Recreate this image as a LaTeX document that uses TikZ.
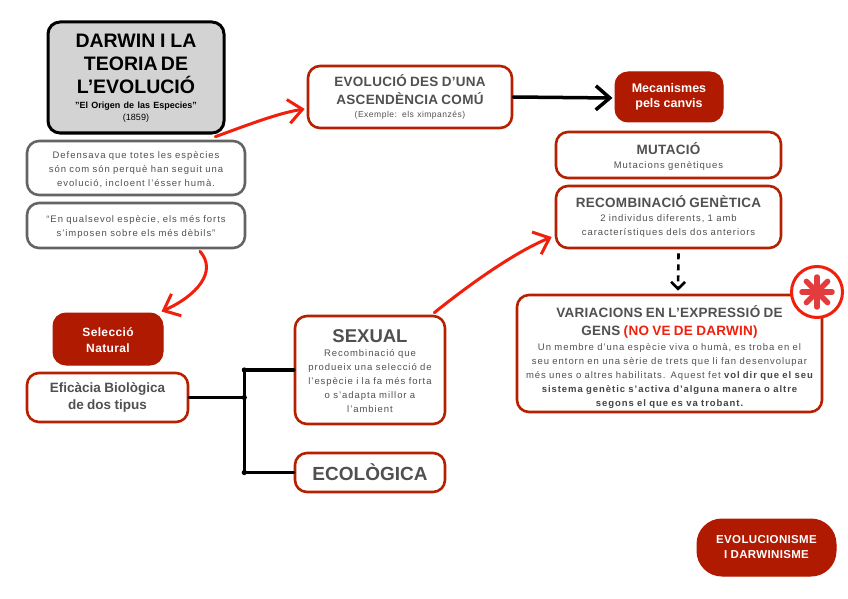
\documentclass[tikz,border=0pt]{standalone}
\usepackage{fontspec}
\setmainfont{Liberation Sans}
\usetikzlibrary{arrows.meta,calc}
\definecolor{dred}{HTML}{B01A00}
\definecolor{bred}{HTML}{B42000}
\definecolor{ared}{HTML}{F0200C}
\definecolor{tgray}{HTML}{505050}
\definecolor{bgray}{HTML}{646464}
\definecolor{lgray}{HTML}{D3D3D3}
\definecolor{astred}{HTML}{E23C3C}
\newcommand{\bodytext}{\fontsize{9.5}{14}\selectfont\mdseries\addfontfeature{LetterSpace=10}}
\newcommand{\headtext}{\fontsize{13.5}{17.5}\selectfont\bfseries\addfontfeature{LetterSpace=2}}
\tikzset{
  box/.style={draw=bred, line width=2.6pt, rounded corners=12pt, fill=white, align=center, inner sep=0pt, text=tgray},
  gbox/.style={box, draw=bgray},
  fbox/.style={draw=dred, fill=dred, line width=1pt, rounded corners=13pt, align=center, inner sep=0pt, text=white},
  redarrow/.style={draw=ared, line width=3pt, line cap=round, line join=round, -{Straight Barb[length=14pt,width=24pt]}},
  blackarrow/.style={draw=black, line width=3.5pt, line cap=round, line join=round, -{Straight Barb[length=14pt,width=24pt]}},
  treeline/.style={draw=black, line width=3.5pt, line cap=round}
}
\begin{document}
\begin{tikzpicture}[x=1pt,y=-1pt]
\fill[white] (0,0) rectangle (848,599);
\useasboundingbox (0,0) rectangle (848,599);

% Darwin title box
\node[box, draw=black, fill=lgray, line width=3pt, text=black, minimum width=176pt, minimum height=111pt, text width=170pt] (dar) at (136,77.5)
 {\fontsize{19.5}{23}\selectfont\bfseries\rule{0pt}{15pt}DARWIN\hspace{1.5pt} I\hspace{1.5pt} LA\\TEORIA DE\\L’EVOLUCIÓ\par
  \vspace{2pt}\fontsize{9}{12.5}\selectfont "El Origen de las Especies"\\\mdseries (1859)\par};

\node[gbox, minimum width=218pt, minimum height=54pt, text width=214pt] (g1) at (136,168)
 {\bodytext\rule{0pt}{11pt}Defensava que totes les espècies\\són com són perquè han seguit una\\evolució, incloent l’ésser humà.\par};

\node[gbox, minimum width=218pt, minimum height=45pt, text width=214pt] (g2) at (136,225.5)
 {\bodytext\rule{0pt}{10pt}“En qualsevol espècie, els més forts\\s’imposen sobre els més dèbils”\par};

% Evolucio
\node[box, minimum width=204pt, minimum height=62pt, text width=200pt] (evo) at (410,97)
 {\headtext EVOLUCIÓ DES D’UNA\\ASCENDÈNCIA COMÚ\par
  \fontsize{8.5}{13}\selectfont\mdseries\addfontfeature{LetterSpace=6}(Exemple: els ximpanzés)\par};

\node[fbox, minimum width=108pt, minimum height=50pt, text width=104pt] (mec) at (669,97)
 {\fontsize{12.5}{15.5}\selectfont\bfseries Mecanismes\\pels canvis\par};

\node[box, minimum width=225pt, minimum height=46pt, text width=221pt] (mut) at (668.5,155)
 {\headtext\rule{0pt}{14.5pt}MUTACIÓ\par\bodytext Mutacions genètiques\par};

\node[box, minimum width=225pt, minimum height=62pt, text width=221pt] (rec) at (668.5,217)
 {\headtext RECOMBINACIÓ GENÈTICA\par\bodytext 2 individus diferents, 1 amb\\característiques dels dos anteriors\par};

\node[box, minimum width=305pt, minimum height=117pt, text width=300pt] (var) at (669.5,353.5)
 {\headtext\rule{0pt}{19.5pt}VARIACIONS EN L’EXPRESSIÓ DE\\GENS {\color{ared}(NO VE DE DARWIN)}\par
  \vspace{1.5pt}\bodytext Un membre d’una espècie viva o humà, es troba en el\\seu entorn en una sèrie de trets que li fan desenvolupar\\més unes o altres habilitats. Aquest fet {\bfseries\color{tgray!85!black}vol dir que el seu}\\{\bfseries\color{tgray!85!black}sistema genètic s’activa d’alguna manera o altre}\\{\bfseries\color{tgray!85!black}segons el que es va trobant.}\par};

% asterisk circle
\node[circle, draw=ared, line width=3pt, fill=white, minimum size=51pt, inner sep=0pt] (ast) at (817,292) {};
\foreach \a in {0,45,90,135}{
  \draw[astred, line width=5.5pt, line cap=round] ($(ast.center)+(\a:15)$) -- ($(ast.center)+(\a+180:15)$);
}

% Seleccio natural
\node[fbox, minimum width=110pt, minimum height=52pt, text width=106pt] (sel) at (108,339)
 {\fontsize{12}{16}\selectfont\bfseries\addfontfeature{LetterSpace=3}\rule{0pt}{12pt}Selecció\\Natural\par};

\node[box, minimum width=161pt, minimum height=49pt, text width=157pt] (efi) at (107.5,397.5)
 {\fontsize{13.5}{17}\selectfont\bfseries Eficàcia Biològica\\de dos tipus\par};

\node[box, minimum width=150pt, minimum height=108pt, text width=146pt] (sex) at (370,370)
 {\fontsize{18.5}{20}\selectfont\bfseries\rule{0pt}{16pt}SEXUAL\par
  \bodytext Recombinació que\\produeix una selecció de\\l’espècie i la fa més forta\\o s’adapta millor a\\l’ambient\par};

\node[box, minimum width=150pt, minimum height=39pt, text width=146pt] (eco) at (370,472.5)
 {\fontsize{19}{22}\selectfont\bfseries ECOLÒGICA\par};

\node[fbox, rounded corners=25pt, minimum width=139pt, minimum height=57pt, text width=135pt] (evd) at (766.5,547.5)
 {\fontsize{11.5}{15}\selectfont\bfseries\addfontfeature{LetterSpace=3}EVOLUCIONISME\\I DARWINISME\par};

% tree
\coordinate (tj) at ($(efi.east)+(55,0)$);
\coordinate (tt) at (tj |- sex.west);
\coordinate (tb) at (tj |- eco.west);
\draw[treeline] (efi.east) -- (tj);
\draw[treeline] (tt) -- (tb);
\draw[treeline] (tt) -- (sex.west);
\draw[treeline] (tb) -- (eco.west);
\foreach \p in {tt,tj,tb} \fill[black] (\p) circle (2.6pt);

% black arrow
\draw[blackarrow] (evo.east) -- ($(mec.west)+(-2,1)$);

% dashed arrow
\draw[draw=black, line width=2.6pt, dash pattern=on 6pt off 5pt, -{Straight Barb[length=7pt,width=14pt]}] ($(rec.south)+(10,4)$) -- ($(var.north)+(8.5,-3)$);

% red arrows
\coordinate (a1s) at ($(g1.north east)+(-31,-3)$);
\coordinate (a1e) at ($(evo.west)+(-2,12)$);
\draw[redarrow] (a1s) .. controls (245,126) and (278,113) .. (a1e);

\coordinate (a2s) at ($(g2.south)+(64,2)$);
\coordinate (a2e) at ($(sel.north east)+(-2,-1)$);
\draw[redarrow] (a2s) .. controls (218,272) and (196,296) .. (a2e);

\coordinate (a3s) at ($(sex.north east)+(-12,-2)$);
\coordinate (a3e) at ($(rec.west)+(-3,20)$);
\draw[redarrow] (a3s) .. controls (470,284) and (515,252) .. (a3e);
\end{tikzpicture}
\end{document}
